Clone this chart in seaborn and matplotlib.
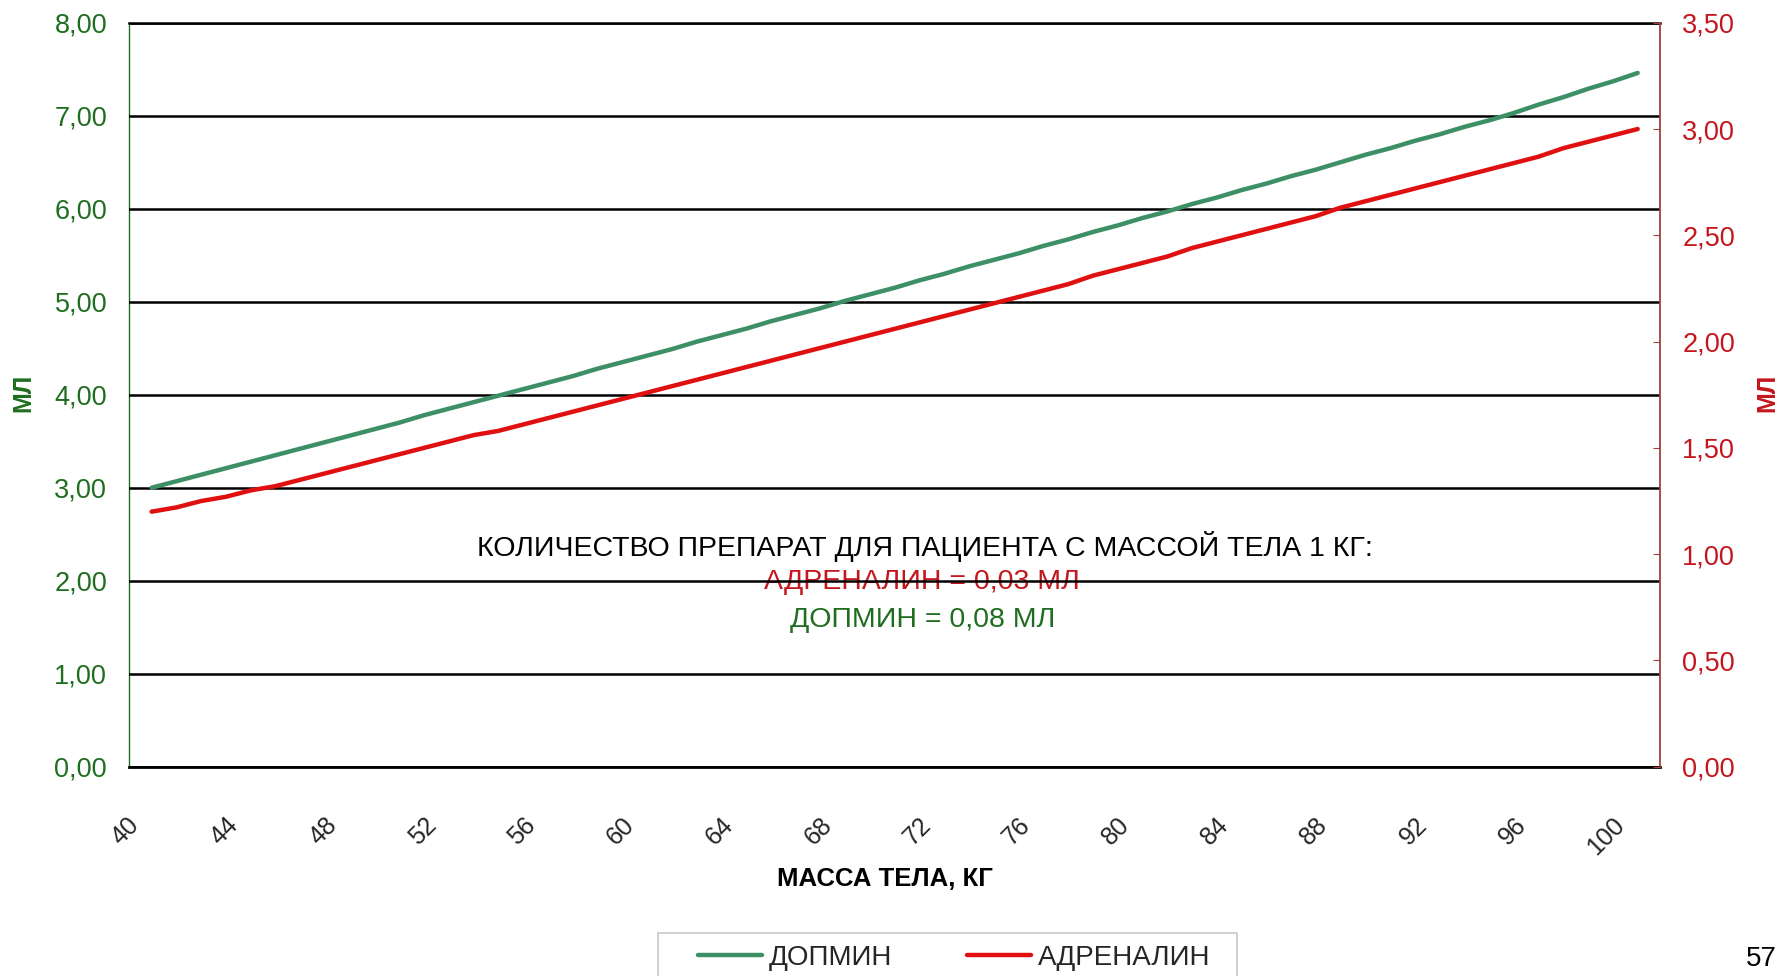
import numpy as np
import pandas as pd
import matplotlib
matplotlib.use("Agg")
import matplotlib.pyplot as plt
import matplotlib.transforms as mtransforms
from matplotlib.patches import Rectangle
from matplotlib.ticker import FuncFormatter, FixedLocator
import seaborn as sns

# body mass, kg
mass = list(range(40, 101))

# dopamine, ml (left axis)
dopamine = [3.00, 3.07, 3.14, 3.21, 3.28, 3.35, 3.42, 3.49, 3.56, 3.63,
            3.70, 3.78, 3.85, 3.92, 3.99, 4.06, 4.13, 4.20, 4.28, 4.35,
            4.42, 4.49, 4.57, 4.64, 4.71, 4.79, 4.86, 4.93, 5.01, 5.08,
            5.15, 5.23, 5.30, 5.38, 5.45, 5.52, 5.60, 5.67, 5.75, 5.82,
            5.90, 5.97, 6.05, 6.12, 6.20, 6.27, 6.35, 6.42, 6.50, 6.58,
            6.65, 6.73, 6.80, 6.88, 6.95, 7.03, 7.12, 7.20, 7.29, 7.37,
            7.46]

# adrenaline, ml (right axis)
adrenaline = [1.20, 1.22, 1.25, 1.27, 1.30, 1.32, 1.35, 1.38, 1.41, 1.44,
              1.47, 1.50, 1.53, 1.56, 1.58, 1.61, 1.64, 1.67, 1.70, 1.73,
              1.76, 1.79, 1.82, 1.85, 1.88, 1.91, 1.94, 1.97, 2.00, 2.03,
              2.06, 2.09, 2.12, 2.15, 2.18, 2.21, 2.24, 2.27, 2.31, 2.34,
              2.37, 2.40, 2.44, 2.47, 2.50, 2.53, 2.56, 2.59, 2.63, 2.66,
              2.69, 2.72, 2.75, 2.78, 2.81, 2.84, 2.87, 2.91, 2.94, 2.97,
              3.00]

x_labels = list(range(40, 101, 4))
left_ticks = [0, 1, 2, 3, 4, 5, 6, 7, 8]
right_ticks = [0, 0.5, 1, 1.5, 2, 2.5, 3, 3.5]

GREEN_LINE = "#3d8f66"
RED_LINE = "#e01010"
GREEN_TXT = "#1f6e1f"
RED_TXT = "#c4161c"

sns.set_style("white")
plt.rcParams['font.family'] = ['Liberation Sans', 'DejaVu Sans']

df = pd.DataFrame({"mass": mass, "dopamine": dopamine, "adrenaline": adrenaline})

fig = plt.figure(figsize=(17.79, 9.76), dpi=100)
ax = fig.add_axes([0.0727, 0.2144, 0.8604, 0.7623])
ax2 = ax.twinx()

sns.lineplot(data=df, x="mass", y="dopamine", ax=ax, color=GREEN_LINE, lw=3.2, legend=False, zorder=3)
sns.lineplot(data=df, x="mass", y="adrenaline", ax=ax2, color=RED_LINE, lw=3.2, legend=False, zorder=3)

ax.set_xlim(39.1, 100.9)
ax.set_ylim(0, 8)
ax2.set_ylim(0, 3.5)

comma = FuncFormatter(lambda v, p: f"{v:.2f}".replace(".", ","))

# left axis
ax.yaxis.set_major_locator(FixedLocator(left_ticks))
ax.yaxis.set_major_formatter(comma)
ax.tick_params(axis="y", direction="in", length=5, color="black", labelsize=19.5,
               labelcolor=GREEN_TXT, pad=16)
ax.set_axisbelow(False)
ax.yaxis.grid(True, color="black", lw=1.8, zorder=2.5)

# right axis
ax2.yaxis.set_major_locator(FixedLocator(right_ticks))
ax2.yaxis.set_major_formatter(comma)
ax2.tick_params(axis="y", direction="in", length=5, color="#a04040", labelsize=19.5,
                labelcolor=RED_TXT, pad=16)

# x axis: labels every 4 kg, tick marks every 2 kg
ax.xaxis.set_major_locator(FixedLocator(x_labels))
ax.set_xticklabels([str(v) for v in x_labels], rotation=45, ha="right", va="top")
ax.xaxis.set_minor_locator(FixedLocator(np.linspace(39.1, 100.9, 32)))
ax.tick_params(axis="x", which="major", length=0, labelsize=18, pad=33)
ax.tick_params(axis="x", which="minor", direction="in", length=6, width=1.5, color="black")
shift = mtransforms.ScaledTranslation(-0.08, 0, fig.dpi_scale_trans)
for lab in ax.get_xticklabels():
    lab.set_transform(lab.get_transform() + shift)

# spines
for s in ["top", "bottom", "left", "right"]:
    ax2.spines[s].set_visible(False)
ax2.spines["right"].set_visible(True)
ax2.spines["right"].set_color("#a04040")
ax2.spines["right"].set_linewidth(1.3)
ax.spines["right"].set_visible(False)
ax.spines["top"].set_color("black")
ax.spines["top"].set_linewidth(1.8)
ax.spines["bottom"].set_color("black")
ax.spines["bottom"].set_linewidth(2)
ax.spines["left"].set_color(GREEN_TXT)
ax.spines["left"].set_linewidth(1)

# axis labels
ax.set_xlabel("МАССА ТЕЛА, КГ", fontsize=18.5, fontweight="bold", color="black", va="center")
ax.xaxis.set_label_coords(0.4937, -0.151)
ax.set_ylabel("МЛ", fontsize=18, fontweight="bold", color=GREEN_TXT, va="center")
ax.yaxis.set_label_coords(-0.0694, 0.502)
ax2.set_ylabel("МЛ", fontsize=18, fontweight="bold", color=RED_TXT, va="center", rotation=90)
ax2.yaxis.set_label_coords(1.070, 0.502)

# note inside the plot
ax.text(0.5198, 0.2966, "КОЛИЧЕСТВО ПРЕПАРАТ ДЛЯ ПАЦИЕНТА С МАССОЙ ТЕЛА 1 КГ:",
        transform=ax.transAxes, ha="center", va="center", fontsize=20.5, color="black", zorder=1)
ax.text(0.518, 0.2483, "АДРЕНАЛИН = 0,03 МЛ", transform=ax.transAxes,
        ha="center", va="center", fontsize=20.5, color=RED_TXT, zorder=1)
ax.text(0.518, 0.1972, "ДОПМИН = 0,08 МЛ", transform=ax.transAxes,
        ha="center", va="center", fontsize=20.5, color=GREEN_TXT, zorder=1)

# legend below (frame drawn separately, it runs off the bottom edge)
handles = [ax.lines[0], ax2.lines[0]]
fig.legend(handles, ["ДОПМИН", "АДРЕНАЛИН"], loc="center left",
           bbox_to_anchor=(698 / 1779, 1 - 958 / 976), ncol=2, fontsize=20,
           frameon=False, borderaxespad=0, borderpad=0,
           handlelength=2.3, handletextpad=0.24, columnspacing=2.7)
fig.patches.append(Rectangle((658 / 1779, -0.02), (1237 - 658) / 1779, (976 - 933) / 976 + 0.02,
                             transform=fig.transFigure, fill=False, edgecolor="#c8c8c8", lw=1.2))

# page number at the corner
fig.text(0.999, 0.004, "57", ha="right", va="bottom", fontsize=20, color="black")

fig.savefig("out.png", dpi=100)
